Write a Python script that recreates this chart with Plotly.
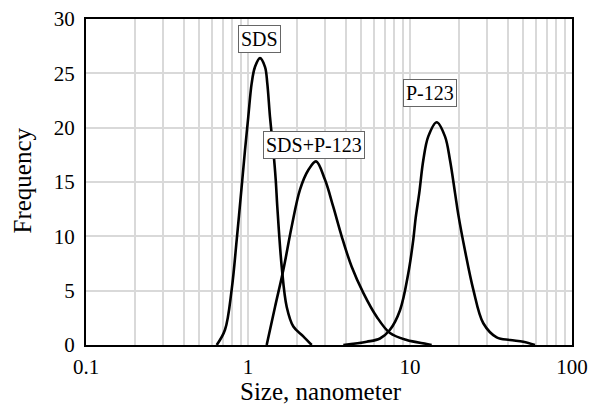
import math
import plotly.graph_objects as go

# SDS
sds_x = [0.641, 0.721, 0.793, 0.852, 0.922, 0.958, 1.004, 1.054, 1.105, 1.186, 1.273, 1.315, 1.367,
         1.433, 1.483, 1.517, 1.615, 1.734, 1.905, 2.194, 2.473]
sds_y = [0, 1.4, 5.1, 9.7, 15.2, 17.9, 21.0, 24.1, 25.6, 26.4, 25.6, 24.1, 21.0,
         17.9, 15.2, 12.7, 7.2, 3.5, 1.7, 0.8, 0]

# SDS+P-123
mix_x = [1.304, 1.468, 1.652, 1.861, 2.094, 2.357, 2.629, 2.988, 3.362, 3.787, 4.366, 5.149, 6.229, 7.524, 9.541, 12.68, 13.6]
mix_y = [0, 3.5, 6.9, 10.9, 14.3, 16.1, 16.9, 15.2, 12.7, 10.0, 7.2, 4.8, 2.6, 1.1, 0.46, 0.1, 0]

# P-123
p_x = [3.876, 5.404, 6.529, 7.524, 8.676, 9.761, 10.48, 10.84, 11.41, 12.08, 12.97, 14.62, 16.44, 17.66,
       18.96, 19.87, 21.85, 24.59, 28.35, 34.29, 41.43, 50.05, 59.1]
p_y = [0, 0.3, 0.6, 1.4, 3.2, 6.6, 9.7, 11.7, 14.0, 17.0, 19.2, 20.5, 19.2, 17.0,
       14.0, 12.0, 8.7, 5.1, 2.0, 0.7, 0.46, 0.3, 0]

labels = ["SDS", "SDS+P-123", "P-123"]
label_x = [1.17, 2.545, 13.29]
label_y = [28.2, 18.4, 23.2]

x_title = "Size, nanometer"
y_title = "Frequency"

x_tickvals = [0.1, 1, 10, 100]
x_ticktext = ["0.1", "1", "10", "100"]
y_tickvals = [0, 5, 10, 15, 20, 25, 30]

minor_vals = [m * 10 ** e for e in (-1, 0, 1) for m in range(2, 10)]

font = "Liberation Serif, Times New Roman, serif"

fig = go.Figure()
for xs, ys, nm in [(sds_x, sds_y, labels[0]), (mix_x, mix_y, labels[1]), (p_x, p_y, labels[2])]:
    fig.add_trace(go.Scatter(x=xs, y=ys, mode="lines", name=nm,
                             line=dict(color="black", width=2.6, shape="spline", smoothing=1.0)))

for t, lx, ly in zip(labels, label_x, label_y):
    fig.add_annotation(x=math.log10(lx), y=ly, xref="x", yref="y", text=t, showarrow=False,
                       font=dict(family=font, size=20, color="black"),
                       bgcolor="white", bordercolor="#666666", borderwidth=1, borderpad=2)

# axis titles
fig.add_annotation(x=0.4835, y=-0.144, xref="paper", yref="paper", text=x_title, showarrow=False,
                   xanchor="center", yanchor="middle", font=dict(family=font, size=25, color="black"))
fig.add_annotation(x=-0.1307, y=0.506, xref="paper", yref="paper", text=y_title, showarrow=False,
                   textangle=-90, xanchor="center", yanchor="middle",
                   font=dict(family=font, size=25, color="black"))

fig.update_layout(
    width=590, height=405,
    margin=dict(l=86, r=18, t=19, b=60, autoexpand=False),
    paper_bgcolor="white", plot_bgcolor="white",
    showlegend=False,
    font=dict(family=font, size=21, color="black"),
    xaxis=dict(type="log", range=[-1, 2], tickvals=x_tickvals, ticktext=x_ticktext,
               showgrid=True, gridcolor="#d9d9d9", gridwidth=1.5,
               minor=dict(tickvals=minor_vals, showgrid=True, gridcolor="#d9d9d9", gridwidth=1.5, ticks=""),
               showline=True, linecolor="black", linewidth=2, mirror=True,
               ticks="", ticklabelstandoff=2, zeroline=False, automargin=False),
    yaxis=dict(range=[0, 30], tickvals=y_tickvals,
               showgrid=True, gridcolor="#d9d9d9", gridwidth=1.5,
               showline=True, linecolor="black", linewidth=2, mirror=True,
               ticks="", ticklabelstandoff=5, zeroline=False, automargin=False),
)

fig.write_html("out.html", config={"displayModeBar": False},
               post_script="document.body.style.margin='0';")
